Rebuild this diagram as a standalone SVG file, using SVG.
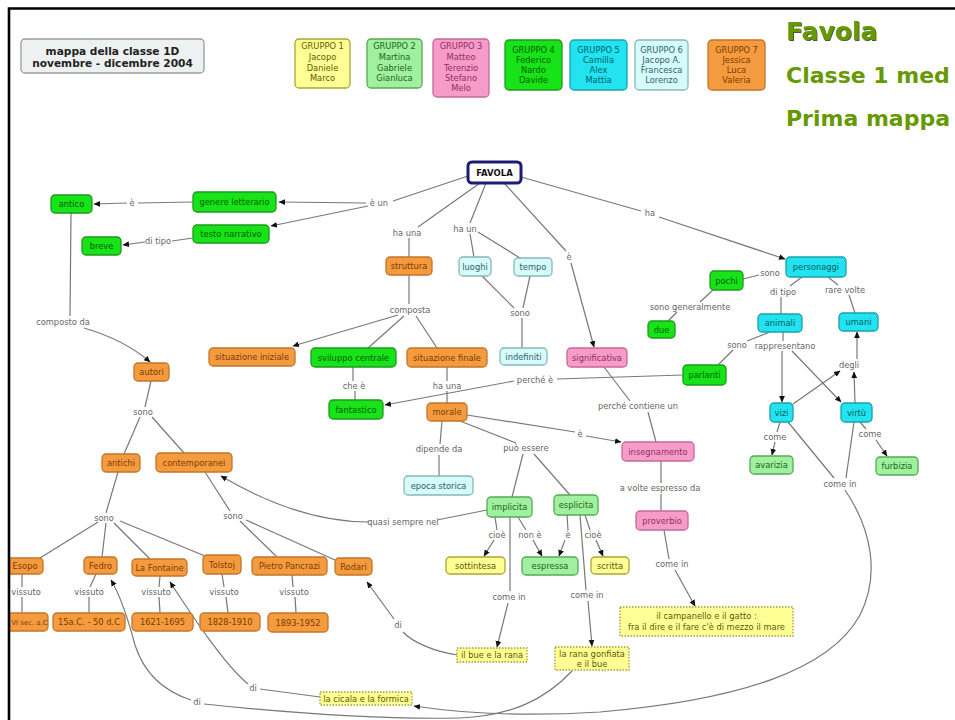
<svg xmlns="http://www.w3.org/2000/svg" width="955" height="720" viewBox="0 0 955 720">
<defs>
<marker id="a" markerWidth="7" markerHeight="7" refX="6" refY="3.5" orient="auto" markerUnits="userSpaceOnUse"><path d="M0,0.6 L6.5,3.5 L0,6.4 z" fill="#111"/></marker>
<filter id="sh" x="-5%" y="-20%" width="115%" height="150%"><feDropShadow dx="1" dy="1" stdDeviation="0.4" flood-color="#223300" flood-opacity="0.8"/></filter>
</defs>
<style>
text{font-family:"DejaVu Sans",Verdana,sans-serif;font-size:8.3px;text-anchor:middle}
.l{fill:#666}
.n rect{stroke-width:1.3}
.or rect{fill:#f59b3f;stroke:#c27628}.or text{fill:#7a3c00}
.gr rect{fill:#18e218;stroke:#1c9a1c}.gr text{fill:#005f00}
.cy rect{fill:#22e3ef;stroke:#18a2ac}.cy text{fill:#005f66}
.lc rect{fill:#d6fbfb;stroke:#89b7bb}.lc text{fill:#2f6266}
.pk rect{fill:#f79cc9;stroke:#c56a98}.pk text{fill:#8e2f5e}
.lg rect{fill:#9ff09f;stroke:#58a858}.lg text{fill:#1d661d}
.ye rect{fill:#ffff95;stroke:#a8a830}.ye text{fill:#5c5c00}
.ex rect{fill:#ffff95;stroke:#a0a030;stroke-dasharray:1.5 1.5}.ex text{fill:#5c5c00}
.g text{font-size:8.3px}
.c path{stroke:#787878;stroke-width:1.2;fill:none}
.c .m{marker-end:url(#a)}
.t{font-weight:bold;text-anchor:start;fill:#669900}
</style>
<rect width="955" height="720" fill="#ffffff"/>

<g id="titlebox"><rect x="21" y="39" width="183" height="34" rx="4" fill="#eef1f1" stroke="#9a9a9a" stroke-width="1.3"/>
<text x="112.5" y="55" style="font-weight:bold;font-size:10.6px;fill:#222">mappa della classe 1D</text>
<text x="112.5" y="67" style="font-weight:bold;font-size:10.6px;fill:#222">novembre - dicembre 2004</text></g>

<g id="g1" class="n g ye"><rect x="295" y="39" width="55" height="49" rx="4"/><text x="322.5" y="49">GRUPPO 1</text><text x="322.5" y="60">Jacopo</text><text x="322.5" y="71">Daniele</text><text x="322.5" y="81">Marco</text></g>
<g id="g2" class="n g lg"><rect x="367" y="39" width="55" height="49" rx="4"/><text x="394.5" y="49">GRUPPO 2</text><text x="394.5" y="60">Martina</text><text x="394.5" y="71">Gabriele</text><text x="394.5" y="81">Gianluca</text></g>
<g id="g3" class="n g pk"><rect x="433" y="39" width="56" height="58" rx="4"/><text x="461" y="49">GRUPPO 3</text><text x="461" y="60">Matteo</text><text x="461" y="71">Terenzio</text><text x="461" y="81">Stefano</text><text x="461" y="91">Melo</text></g>
<g id="g4" class="n g gr"><rect x="505" y="40" width="57" height="50" rx="4"/><text x="533.5" y="53">GRUPPO 4</text><text x="533.5" y="63">Federico</text><text x="533.5" y="73">Nardo</text><text x="533.5" y="83">Davide</text></g>
<g id="g5" class="n g cy"><rect x="570" y="40" width="57" height="50" rx="4"/><text x="598.5" y="53">GRUPPO 5</text><text x="598.5" y="63">Camilla</text><text x="598.5" y="73">Alex</text><text x="598.5" y="83">Mattia</text></g>
<g id="g6" class="n g lc"><rect x="635" y="40" width="53" height="50" rx="4"/><text x="661.5" y="53">GRUPPO 6</text><text x="661.5" y="63">Jacopo A.</text><text x="661.5" y="73">Francesca</text><text x="661.5" y="83">Lorenzo</text></g>
<g id="g7" class="n g or"><rect x="708" y="40" width="57" height="50" rx="4"/><text x="736.5" y="53">GRUPPO 7</text><text x="736.5" y="63">Jessica</text><text x="736.5" y="73">Luca</text><text x="736.5" y="83">Valeria</text></g>

<g id="heading">
<text class="t" x="786" y="40" style="font-size:25px" filter="url(#sh)">Favola</text>
<text class="t" x="786" y="83" style="font-size:22px">Classe 1 med</text>
<text class="t" x="786" y="126" style="font-size:22px">Prima mappa</text>
</g>

<g id="connectors" class="c">
<path d="M468,176 L393,201"/>
<path class="m" d="M366,203 L279,202"/>
<path class="m" d="M368,206 L271,226"/>
<path d="M193,202 L138,203"/>
<path class="m" d="M127,203 L94,204"/>
<path d="M193,238 L172,241"/>
<path class="m" d="M145,242 L123,245"/>
<path d="M71,213 L70,316"/>
<path class="m" d="M84,328 Q125,340 150,362"/>
<path d="M480,183 L418,227"/>
<path d="M409,238 L409,257"/>
<path d="M409,275 L409,304"/>
<path class="m" d="M398,315 L293,346"/>
<path d="M404,316 L368,348"/>
<path d="M416,316 L437,348"/>
<path d="M486,183 L470,223"/>
<path d="M470,234 L474,257"/>
<path d="M478,232 L520,258"/>
<path d="M482,276 L514,308"/>
<path d="M530,276 L523,308"/>
<path d="M522,318 L522,348"/>
<path d="M504,183 L566,251"/>
<path class="m" d="M571,263 L594,347"/>
<path d="M521,177 L641,211"/>
<path class="m" d="M659,217 L785,259"/>
<path d="M743,279 L759,275"/>
<path d="M713,290 L700,302"/>
<path d="M677,312 L668,321"/>
<path d="M802,277 L790,286"/>
<path d="M781,297 L781,314"/>
<path d="M828,277 L838,285"/>
<path d="M849,295 L855,313"/>
<path d="M770,332 L747,341"/>
<path d="M733,350 L718,365"/>
<path d="M783,332 L783,341"/>
<path class="m" d="M782,351 L782,402"/>
<path class="m" d="M792,351 L841,402"/>
<path class="m" d="M793,404 L840,371"/>
<path class="m" d="M855,403 L854,372"/>
<path class="m" d="M857,359 L857,332"/>
<path d="M780,422 L777,432"/>
<path class="m" d="M775,442 L772,455"/>
<path d="M860,422 L866,429"/>
<path class="m" d="M876,440 L887,456"/>
<path d="M788,422 L834,478"/>
<path d="M854,422 L846,478"/>
<path class="m" d="M845,490 C872,530 880,575 860,615 C830,670 740,700 600,712 C520,717 460,713 414,706"/>
<path d="M353,367 L353,381"/>
<path d="M355,391 L355,400"/>
<path d="M683,375 L557,379"/>
<path class="m" d="M514,381 L385,405"/>
<path d="M447,367 L447,381"/>
<path d="M447,391 L447,403"/>
<path d="M604,367 L630,401"/>
<path d="M648,412 L656,442"/>
<path d="M467,415 L575,432"/>
<path class="m" d="M586,436 L621,442"/>
<path d="M442,421 L440,444"/>
<path d="M439,455 L439,476"/>
<path d="M460,421 L516,443"/>
<path d="M523,454 L512,497"/>
<path d="M534,454 L570,495"/>
<path d="M661,461 L661,483"/>
<path d="M661,494 L661,511"/>
<path d="M664,530 L669,559"/>
<path class="m" d="M675,570 L695,606"/>
<path d="M487,510 L437,520"/>
<path class="m" d="M369,522 C320,522 270,505 221,476"/>
<path d="M495,517 L497,530"/>
<path class="m" d="M494,540 L484,556"/>
<path d="M518,517 L526,530"/>
<path class="m" d="M533,540 L542,556"/>
<path d="M567,515 L568,530"/>
<path class="m" d="M565,540 L559,556"/>
<path d="M585,515 L590,530"/>
<path class="m" d="M596,540 L603,556"/>
<path d="M510,517 L510,591"/>
<path class="m" d="M508,603 L497,647"/>
<path d="M580,515 L586,590"/>
<path class="m" d="M588,601 L592,646"/>
<path d="M151,381 L145,407"/>
<path d="M140,417 L124,454"/>
<path d="M152,417 L184,453"/>
<path d="M118,472 L106,513"/>
<path d="M98,522 L40,558"/>
<path d="M106,523 L102,557"/>
<path d="M114,523 L150,559"/>
<path d="M120,521 L205,556"/>
<path d="M205,472 L230,511"/>
<path d="M240,521 L277,557"/>
<path d="M246,520 L335,560"/>
<path d="M22,574 L22,587"/><path d="M22,597 L22,613"/>
<path d="M96,574 L90,587"/><path d="M89,597 L89,613"/>
<path d="M160,576 L159,587"/><path d="M159,597 L160,613"/>
<path d="M222,574 L224,587"/><path d="M226,597 L228,613"/>
<path d="M292,575 L293,587"/><path d="M295,597 L296,613"/>
<path d="M458,655 C435,652 412,642 403,632"/>
<path class="m" d="M394,619 L367,582"/>
<path d="M320,697 L260,689"/>
<path class="m" d="M248,684 C225,665 195,620 170,582"/>
<path d="M572,671 C545,700 510,716 460,718 C370,720 280,712 204,704"/>
<path class="m" d="M191,700 C160,690 143,670 135,645 C127,615 120,595 111,580"/>
</g>

<g id="labels">
<text class="l" x="379" y="206">è un</text>
<text class="l" x="132" y="206">è</text>
<text class="l" x="158" y="244">di tipo</text>
<text class="l" x="407" y="236">ha una</text>
<text class="l" x="465" y="232">ha un</text>
<text class="l" x="569" y="260">è</text>
<text class="l" x="650" y="216">ha</text>
<text class="l" x="770" y="276">sono</text>
<text class="l" x="690" y="310">sono generalmente</text>
<text class="l" x="783" y="295">di tipo</text>
<text class="l" x="845" y="293">rare volte</text>
<text class="l" x="520" y="316">sono</text>
<text class="l" x="410" y="313">composta</text>
<text class="l" x="63" y="325">composto da</text>
<text class="l" x="354" y="389">che è</text>
<text class="l" x="447" y="389">ha una</text>
<text class="l" x="535" y="383">perché è</text>
<text class="l" x="737" y="348">sono</text>
<text class="l" x="785" y="349">rappresentano</text>
<text class="l" x="849" y="368">degli</text>
<text class="l" x="143" y="415">sono</text>
<text class="l" x="638" y="409">perché contiene un</text>
<text class="l" x="580" y="437">è</text>
<text class="l" x="439" y="452">dipende da</text>
<text class="l" x="526" y="451">può essere</text>
<text class="l" x="775" y="440">come</text>
<text class="l" x="870" y="437">come</text>
<text class="l" x="840" y="487">come in</text>
<text class="l" x="660" y="491">a volte espresso da</text>
<text class="l" x="403" y="525">quasi sempre nei</text>
<text class="l" x="104" y="521">sono</text>
<text class="l" x="233" y="519">sono</text>
<text class="l" x="497" y="538">cioè</text>
<text class="l" x="530" y="538">non è</text>
<text class="l" x="568" y="538">è</text>
<text class="l" x="593" y="538">cioè</text>
<text class="l" x="672" y="567">come in</text>
<text class="l" x="26" y="595">vissuto</text>
<text class="l" x="89" y="595">vissuto</text>
<text class="l" x="156" y="595">vissuto</text>
<text class="l" x="224" y="595">vissuto</text>
<text class="l" x="294" y="595">vissuto</text>
<text class="l" x="509" y="600">come in</text>
<text class="l" x="587" y="598">come in</text>
<text class="l" x="398" y="628">di</text>
<text class="l" x="253" y="691">di</text>
<text class="l" x="197" y="705">di</text>
</g>

<g id="favola" class="n"><rect x="468" y="162" width="53" height="21" rx="4" fill="#fff" stroke="#1c1c78" style="stroke-width:3"/><text x="494.5" y="175.5" style="font-weight:bold;font-size:8.5px;fill:#111">FAVOLA</text></g>
<g id="genere" class="n gr"><rect x="193" y="192" width="83" height="20" rx="4"/><text x="234.5" y="205">genere letterario</text></g>
<g id="antico" class="n gr"><rect x="51" y="195" width="41" height="18" rx="4"/><text x="71.5" y="207">antico</text></g>
<g id="testo" class="n gr"><rect x="193" y="225" width="76" height="18" rx="4"/><text x="231" y="237">testo narrativo</text></g>
<g id="breve" class="n gr"><rect x="82" y="237" width="39" height="18" rx="4"/><text x="101.5" y="249">breve</text></g>
<g id="struttura" class="n or"><rect x="386" y="257" width="46" height="18" rx="4"/><text x="409" y="269">struttura</text></g>
<g id="luoghi" class="n lc"><rect x="459" y="257" width="32" height="19" rx="4"/><text x="475" y="269.5">luoghi</text></g>
<g id="tempo" class="n lc"><rect x="514" y="258" width="38" height="18" rx="4"/><text x="533" y="270">tempo</text></g>
<g id="personaggi" class="n cy"><rect x="786" y="257" width="60" height="20" rx="4"/><text x="816" y="270">personaggi</text></g>
<g id="pochi" class="n gr"><rect x="710" y="271" width="33" height="19" rx="4"/><text x="726.5" y="283.5">pochi</text></g>
<g id="due" class="n gr"><rect x="648" y="321" width="27" height="17" rx="4"/><text x="661.5" y="332.5">due</text></g>
<g id="animali" class="n cy"><rect x="758" y="314" width="44" height="18" rx="4"/><text x="780" y="326">animali</text></g>
<g id="umani" class="n cy"><rect x="839" y="313" width="39" height="18" rx="4"/><text x="858.5" y="325">umani</text></g>
<g id="sitiniziale" class="n or"><rect x="209" y="348" width="86" height="18" rx="4"/><text x="252" y="360">situazione iniziale</text></g>
<g id="sviluppo" class="n gr"><rect x="311" y="348" width="85" height="19" rx="4"/><text x="353.5" y="360.5">sviluppo centrale</text></g>
<g id="sitfinale" class="n or"><rect x="407" y="348" width="80" height="19" rx="4"/><text x="447" y="360.5">situazione finale</text></g>
<g id="indefiniti" class="n lc"><rect x="500" y="348" width="47" height="17" rx="4"/><text x="523.5" y="359.5">indefiniti</text></g>
<g id="significativa" class="n pk"><rect x="567" y="348" width="60" height="19" rx="4"/><text x="597" y="360.5">significativa</text></g>
<g id="parlanti" class="n gr"><rect x="683" y="365" width="43" height="20" rx="4"/><text x="704.5" y="378">parlanti</text></g>
<g id="autori" class="n or"><rect x="134" y="363" width="35" height="18" rx="4"/><text x="151.5" y="375">autori</text></g>
<g id="fantastico" class="n gr"><rect x="329" y="400" width="54" height="19" rx="4"/><text x="356" y="412.5">fantastico</text></g>
<g id="morale" class="n or"><rect x="427" y="403" width="40" height="18" rx="4"/><text x="447" y="415">morale</text></g>
<g id="vizi" class="n cy"><rect x="770" y="403" width="23" height="19" rx="4"/><text x="781.5" y="415.5">vizi</text></g>
<g id="virtu" class="n cy"><rect x="841" y="403" width="31" height="19" rx="4"/><text x="856.5" y="415.5">virtù</text></g>
<g id="insegnamento" class="n pk"><rect x="622" y="442" width="72" height="19" rx="4"/><text x="658" y="454.5">insegnamento</text></g>
<g id="antichi" class="n or"><rect x="102" y="454" width="38" height="18" rx="4"/><text x="121" y="466">antichi</text></g>
<g id="contemporanei" class="n or"><rect x="156" y="453" width="76" height="19" rx="4"/><text x="194" y="465.5">contemporanei</text></g>
<g id="avarizia" class="n lg"><rect x="750" y="456" width="43" height="18" rx="4"/><text x="771.5" y="468">avarizia</text></g>
<g id="furbizia" class="n lg"><rect x="876" y="457" width="42" height="18" rx="4"/><text x="897" y="469">furbizia</text></g>
<g id="epoca" class="n lc"><rect x="404" y="476" width="69" height="19" rx="4"/><text x="438.5" y="488.5">epoca storica</text></g>
<g id="implicita" class="n lg"><rect x="487" y="497" width="45" height="20" rx="4"/><text x="509.5" y="510">implicita</text></g>
<g id="esplicita" class="n lg"><rect x="554" y="495" width="44" height="20" rx="4"/><text x="576" y="508">esplicita</text></g>
<g id="proverbio" class="n pk"><rect x="636" y="511" width="52" height="19" rx="4"/><text x="662" y="523.5">proverbio</text></g>
<g id="sottintesa" class="n ye"><rect x="446" y="557" width="59" height="17" rx="4"/><text x="475.5" y="568.5">sottintesa</text></g>
<g id="espressa" class="n lg"><rect x="522" y="557" width="56" height="18" rx="4"/><text x="550" y="569">espressa</text></g>
<g id="scritta" class="n ye"><rect x="591" y="557" width="38" height="17" rx="4"/><text x="610" y="568.5">scritta</text></g>
<g id="esopo" class="n or"><rect x="-4" y="558" width="47" height="16" rx="4"/><text x="25" y="569">Esopo</text></g>
<g id="fedro" class="n or"><rect x="84" y="557" width="33" height="17" rx="4"/><text x="100.5" y="568.5">Fedro</text></g>
<g id="lafontaine" class="n or"><rect x="132" y="559" width="55" height="17" rx="4"/><text x="159.5" y="570.5">La Fontaine</text></g>
<g id="tolstoj" class="n or"><rect x="203" y="555" width="38" height="19" rx="4"/><text x="222" y="567.5">Tolstoj</text></g>
<g id="pancrazi" class="n or"><rect x="252" y="557" width="75" height="18" rx="4"/><text x="289.5" y="569">Pietro Pancrazi</text></g>
<g id="rodari" class="n or"><rect x="335" y="558" width="37" height="17" rx="4"/><text x="353.5" y="569.5">Rodari</text></g>
<g id="d1" class="n or"><rect x="-12" y="613" width="60" height="18" rx="4"/><text x="29.5" y="625" style="font-size:6.9px">VI sec. a.C</text></g>
<g id="d2" class="n or"><rect x="53" y="613" width="72" height="18" rx="4"/><text x="89" y="625">15a.C. - 50 d.C</text></g>
<g id="d3" class="n or"><rect x="132" y="613" width="61" height="18" rx="4"/><text x="162.5" y="625">1621-1695</text></g>
<g id="d4" class="n or"><rect x="200" y="613" width="60" height="18" rx="4"/><text x="230" y="625">1828-1910</text></g>
<g id="d5" class="n or"><rect x="268" y="613" width="60" height="19" rx="4"/><text x="298" y="625.5">1893-1952</text></g>
<g id="campanello" class="n ex"><rect x="620" y="607" width="173" height="29"/><text x="706.5" y="619">il campanello e il gatto :</text><text x="706.5" y="630">fra il dire e il fare c'è di mezzo il mare</text></g>
<g id="ranagonfiata" class="n ex"><rect x="555" y="647" width="74" height="23"/><text x="592" y="656.5">la rana gonfiata</text><text x="592" y="666.5">e il bue</text></g>
<g id="buerana" class="n ex"><rect x="457" y="648" width="70" height="14"/><text x="492" y="658">il bue e la rana</text></g>
<g id="cicala" class="n ex"><rect x="320" y="692" width="92" height="13"/><text x="366" y="701.5">la cicala e la formica</text></g>

<rect x="0" y="0" width="8" height="720" fill="#ffffff"/>
<path d="M9,720 V8.5 H955" fill="none" stroke="#000" stroke-width="2.6"/>
</svg>
